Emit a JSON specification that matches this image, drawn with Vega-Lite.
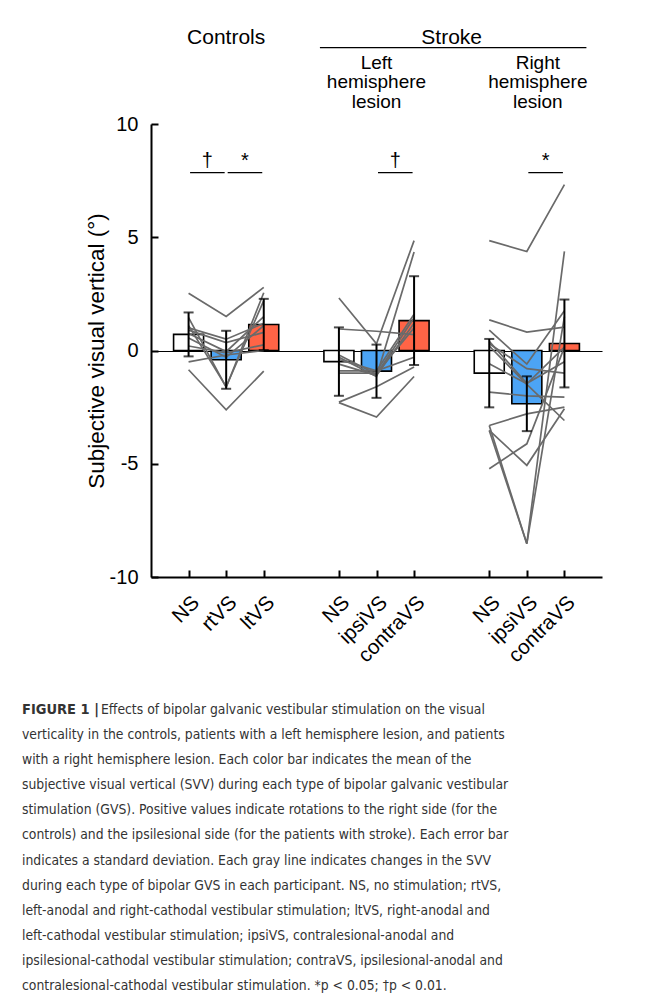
{
  "$schema": "https://vega.github.io/schema/vega-lite/v6.json",
  "background": "white",
  "padding": {"left": 22, "top": 26, "right": 5, "bottom": 5},
  "config": {"font": "Liberation Sans", "view": {"stroke": null}},
  "bounds": "flush",
  "spacing": 120,
  "datasets": {
    "bars": [
      {"cond": "C|NS", "stim": "NS", "mean": 0.71, "lo": -0.26, "hi": 1.68},
      {"cond": "C|rtVS", "stim": "rtVS", "mean": -0.41, "lo": -1.69, "hi": 0.87},
      {"cond": "C|ltVS", "stim": "ltVS", "mean": 1.15, "lo": 0.02, "hi": 2.28},
      {"cond": "L|NS", "stim": "NS", "mean": -0.49, "lo": -2.0, "hi": 1.02},
      {"cond": "L|ipsiVS", "stim": "ipsiVS", "mean": -0.91, "lo": -2.09, "hi": 0.26},
      {"cond": "L|contraVS", "stim": "contraVS", "mean": 1.32, "lo": -0.64, "hi": 3.28},
      {"cond": "R|NS", "stim": "NS", "mean": -1.0, "lo": -2.51, "hi": 0.51},
      {"cond": "R|ipsiVS", "stim": "ipsiVS", "mean": -2.35, "lo": -3.56, "hi": -1.14},
      {"cond": "R|contraVS", "stim": "contraVS", "mean": 0.31, "lo": -1.63, "hi": 2.25}
    ],
    "subjects": [
      {"subject": "C1", "cond": "C|NS", "svv": 2.53}, {"subject": "C1", "cond": "C|rtVS", "svv": 1.5}, {"subject": "C1", "cond": "C|ltVS", "svv": 2.79},
      {"subject": "C2", "cond": "C|NS", "svv": -0.85}, {"subject": "C2", "cond": "C|rtVS", "svv": -2.62}, {"subject": "C2", "cond": "C|ltVS", "svv": -0.91},
      {"subject": "C3", "cond": "C|NS", "svv": 1.45}, {"subject": "C3", "cond": "C|rtVS", "svv": -1.62}, {"subject": "C3", "cond": "C|ltVS", "svv": 2.55},
      {"subject": "C4", "cond": "C|NS", "svv": 1.1}, {"subject": "C4", "cond": "C|rtVS", "svv": -1.6}, {"subject": "C4", "cond": "C|ltVS", "svv": 2.2},
      {"subject": "C5", "cond": "C|NS", "svv": 1.0}, {"subject": "C5", "cond": "C|rtVS", "svv": 0.5}, {"subject": "C5", "cond": "C|ltVS", "svv": 1.2},
      {"subject": "C6", "cond": "C|NS", "svv": 0.9}, {"subject": "C6", "cond": "C|rtVS", "svv": 0.35}, {"subject": "C6", "cond": "C|ltVS", "svv": 0.8},
      {"subject": "C7", "cond": "C|NS", "svv": 0.75}, {"subject": "C7", "cond": "C|rtVS", "svv": -0.05}, {"subject": "C7", "cond": "C|ltVS", "svv": 1.5},
      {"subject": "C8", "cond": "C|NS", "svv": 0.55}, {"subject": "C8", "cond": "C|rtVS", "svv": -0.3}, {"subject": "C8", "cond": "C|ltVS", "svv": 1.1},
      {"subject": "C9", "cond": "C|NS", "svv": 0.2}, {"subject": "C9", "cond": "C|rtVS", "svv": -0.1}, {"subject": "C9", "cond": "C|ltVS", "svv": 0.25},
      {"subject": "C10", "cond": "C|NS", "svv": -0.5}, {"subject": "C10", "cond": "C|rtVS", "svv": -0.2}, {"subject": "C10", "cond": "C|ltVS", "svv": 0.0},
      {"subject": "L1", "cond": "L|NS", "svv": 2.32}, {"subject": "L1", "cond": "L|ipsiVS", "svv": 0.3}, {"subject": "L1", "cond": "L|contraVS", "svv": 4.85},
      {"subject": "L2", "cond": "L|NS", "svv": 0.95}, {"subject": "L2", "cond": "L|ipsiVS", "svv": 0.85}, {"subject": "L2", "cond": "L|contraVS", "svv": 0.7},
      {"subject": "L3", "cond": "L|NS", "svv": -0.3}, {"subject": "L3", "cond": "L|ipsiVS", "svv": -1.15}, {"subject": "L3", "cond": "L|contraVS", "svv": 4.35},
      {"subject": "L4", "cond": "L|NS", "svv": -0.2}, {"subject": "L4", "cond": "L|ipsiVS", "svv": -1.05}, {"subject": "L4", "cond": "L|contraVS", "svv": 1.45},
      {"subject": "L5", "cond": "L|NS", "svv": -0.4}, {"subject": "L5", "cond": "L|ipsiVS", "svv": -0.9}, {"subject": "L5", "cond": "L|contraVS", "svv": 1.6},
      {"subject": "L6", "cond": "L|NS", "svv": -0.6}, {"subject": "L6", "cond": "L|ipsiVS", "svv": -1.1}, {"subject": "L6", "cond": "L|contraVS", "svv": 1.2},
      {"subject": "L7", "cond": "L|NS", "svv": -0.9}, {"subject": "L7", "cond": "L|ipsiVS", "svv": -0.9}, {"subject": "L7", "cond": "L|contraVS", "svv": -0.3},
      {"subject": "L8", "cond": "L|NS", "svv": -1.0}, {"subject": "L8", "cond": "L|ipsiVS", "svv": -1.0}, {"subject": "L8", "cond": "L|contraVS", "svv": 1.0},
      {"subject": "L9", "cond": "L|NS", "svv": -2.28}, {"subject": "L9", "cond": "L|ipsiVS", "svv": -1.6}, {"subject": "L9", "cond": "L|contraVS", "svv": -0.73},
      {"subject": "L10", "cond": "L|NS", "svv": -2.3}, {"subject": "L10", "cond": "L|ipsiVS", "svv": -2.94}, {"subject": "L10", "cond": "L|contraVS", "svv": -1.15},
      {"subject": "R1", "cond": "R|NS", "svv": 4.85}, {"subject": "R1", "cond": "R|ipsiVS", "svv": 4.37}, {"subject": "R1", "cond": "R|contraVS", "svv": 7.32},
      {"subject": "R2", "cond": "R|NS", "svv": 1.35}, {"subject": "R2", "cond": "R|ipsiVS", "svv": 0.81}, {"subject": "R2", "cond": "R|contraVS", "svv": 1.03},
      {"subject": "R3", "cond": "R|NS", "svv": 0.9}, {"subject": "R3", "cond": "R|ipsiVS", "svv": -0.6}, {"subject": "R3", "cond": "R|contraVS", "svv": 1.75},
      {"subject": "R4", "cond": "R|NS", "svv": 0.4}, {"subject": "R4", "cond": "R|ipsiVS", "svv": -1.45}, {"subject": "R4", "cond": "R|contraVS", "svv": -0.5},
      {"subject": "R5", "cond": "R|NS", "svv": -0.59}, {"subject": "R5", "cond": "R|ipsiVS", "svv": -1.47}, {"subject": "R5", "cond": "R|contraVS", "svv": 0.15},
      {"subject": "R6", "cond": "R|NS", "svv": 0.3}, {"subject": "R6", "cond": "R|ipsiVS", "svv": -0.8}, {"subject": "R6", "cond": "R|contraVS", "svv": -1.0},
      {"subject": "R7", "cond": "R|NS", "svv": -1.84}, {"subject": "R7", "cond": "R|ipsiVS", "svv": -2.0}, {"subject": "R7", "cond": "R|contraVS", "svv": -2.06},
      {"subject": "R8", "cond": "R|NS", "svv": -3.31}, {"subject": "R8", "cond": "R|ipsiVS", "svv": -2.8}, {"subject": "R8", "cond": "R|contraVS", "svv": -2.5},
      {"subject": "R9", "cond": "R|NS", "svv": -3.31}, {"subject": "R9", "cond": "R|ipsiVS", "svv": -8.53}, {"subject": "R9", "cond": "R|contraVS", "svv": 4.38},
      {"subject": "R10", "cond": "R|NS", "svv": -3.53}, {"subject": "R10", "cond": "R|ipsiVS", "svv": -8.53}, {"subject": "R10", "cond": "R|contraVS", "svv": 1.5},
      {"subject": "R11", "cond": "R|NS", "svv": -3.53}, {"subject": "R11", "cond": "R|ipsiVS", "svv": -5.07}, {"subject": "R11", "cond": "R|contraVS", "svv": -2.57},
      {"subject": "R12", "cond": "R|NS", "svv": -5.22}, {"subject": "R12", "cond": "R|ipsiVS", "svv": -4.12}, {"subject": "R12", "cond": "R|contraVS", "svv": 0.15},
      {"subject": "R13", "cond": "R|NS", "svv": 0.2}, {"subject": "R13", "cond": "R|ipsiVS", "svv": -1.5}, {"subject": "R13", "cond": "R|contraVS", "svv": -3.09}
    ],
    "sig": [
      {"cond": "C|NS", "cond2": "C|rtVS", "sym": "†"},
      {"cond": "C|rtVS", "cond2": "C|ltVS", "sym": "*"},
      {"cond": "L|ipsiVS", "cond2": "L|contraVS", "sym": "†"},
      {"cond": "R|ipsiVS", "cond2": "R|contraVS", "sym": "*"}
    ],
    "headers": [
      {"cond": "C|rtVS", "label": "Controls"},
      {"cond": "gap2", "label": "Stroke"}
    ],
    "span": [
      {"cond": "L|NS", "cond2": "R|contraVS"}
    ],
    "subheaders": [
      {"cond": "L|ipsiVS", "label": "Left\nhemisphere\nlesion"},
      {"cond": "R|ipsiVS", "label": "Right\nhemisphere\nlesion"}
    ],
    "caption": [
      {"line": 1, "part": "head", "text": "FIGURE 1 |"},
      {"line": 1, "part": "body", "text": "Effects of bipolar galvanic vestibular stimulation on the visual"},
      {"line": 2, "part": "body", "text": "verticality in the controls, patients with a left hemisphere lesion, and patients"},
      {"line": 3, "part": "body", "text": "with a right hemisphere lesion. Each color bar indicates the mean of the"},
      {"line": 4, "part": "body", "text": "subjective visual vertical (SVV) during each type of bipolar galvanic vestibular"},
      {"line": 5, "part": "body", "text": "stimulation (GVS). Positive values indicate rotations to the right side (for the"},
      {"line": 6, "part": "body", "text": "controls) and the ipsilesional side (for the patients with stroke). Each error bar"},
      {"line": 7, "part": "body", "text": "indicates a standard deviation. Each gray line indicates changes in the SVV"},
      {"line": 8, "part": "body", "text": "during each type of bipolar GVS in each participant. NS, no stimulation; rtVS,"},
      {"line": 9, "part": "body", "text": "left-anodal and right-cathodal vestibular stimulation; ltVS, right-anodal and"},
      {"line": 10, "part": "body", "text": "left-cathodal vestibular stimulation; ipsiVS, contralesional-anodal and"},
      {"line": 11, "part": "body", "text": "ipsilesional-cathodal vestibular stimulation; contraVS, ipsilesional-anodal and"},
      {"line": 12, "part": "body", "text": "contralesional-cathodal vestibular stimulation. *p < 0.05; †p < 0.01."}
    ]
  },
  "vconcat": [
    {
      "width": 451,
      "height": 453,
      "layer": [
        {
          "data": {"name": "bars"},
          "mark": {"type": "bar", "size": 30, "stroke": "black", "strokeWidth": 1.6},
          "encoding": {
            "x": {
              "field": "cond", "type": "nominal", "title": null,
              "scale": {"type": "point", "padding": 1, "domain": ["C|NS", "C|rtVS", "C|ltVS", "gap1", "L|NS", "L|ipsiVS", "L|contraVS", "gap2", "R|NS", "R|ipsiVS", "R|contraVS"]},
              "axis": {
                "values": ["C|NS", "C|rtVS", "C|ltVS", "L|NS", "L|ipsiVS", "L|contraVS", "R|NS", "R|ipsiVS", "R|contraVS"],
                "labelExpr": "split(datum.value, '|')[1]",
                "labelAngle": -45, "labelAlign": "right", "labelBaseline": "top",
                "labelFontSize": 20.5, "labelColor": "black", "labelPadding": 22,
                "labelOverlap": false, "labelBound": false,
                "domainColor": "black", "domainWidth": 2,
                "tickColor": "black", "tickWidth": 2, "tickSize": -7
              }
            },
            "y": {
              "field": "mean", "type": "quantitative", "title": "Subjective visual vertical (°)",
              "scale": {"domain": [-10, 10], "nice": false},
              "axis": {
                "values": [-10, -5, 0, 5, 10],
                "labelExpr": "datum.value + ''",
                "labelFontSize": 20, "labelColor": "black", "labelPadding": 20,
                "domainColor": "black", "domainWidth": 2,
                "tickColor": "black", "tickWidth": 2, "tickSize": -7,
                "titleFontSize": 22.5, "titleFontWeight": "normal", "titleColor": "black", "titlePadding": 1,
                "grid": true, "gridColor": "black", "gridWidth": 1.2,
                "gridOpacity": {"condition": {"test": "datum.value === 0", "value": 1}, "value": 0}
              }
            },
            "y2": {"datum": 0},
            "fill": {
              "field": "stim", "type": "nominal", "legend": null,
              "scale": {"domain": ["NS", "rtVS", "ltVS", "ipsiVS", "contraVS"], "range": ["#ffffff", "#4ca4f5", "#ff6446", "#4ca4f5", "#ff6446"]}
            }
          }
        },
        {
          "data": {"name": "subjects"},
          "mark": {"type": "line", "color": "#6a6a6a", "strokeWidth": 1.7},
          "encoding": {
            "x": {"field": "cond", "type": "nominal", "title": null, "scale": {"type": "point", "padding": 1, "domain": ["C|NS", "C|rtVS", "C|ltVS", "gap1", "L|NS", "L|ipsiVS", "L|contraVS", "gap2", "R|NS", "R|ipsiVS", "R|contraVS"]}},
            "y": {"field": "svv", "type": "quantitative", "title": "Subjective visual vertical (°)"},
            "detail": {"field": "subject"},
            "order": {"value": null}
          }
        },
        {
          "data": {"name": "bars"},
          "mark": {"type": "errorbar", "color": "black", "thickness": 2, "ticks": {"size": 10}},
          "encoding": {
            "x": {"field": "cond", "type": "nominal", "title": null, "scale": {"type": "point", "padding": 1, "domain": ["C|NS", "C|rtVS", "C|ltVS", "gap1", "L|NS", "L|ipsiVS", "L|contraVS", "gap2", "R|NS", "R|ipsiVS", "R|contraVS"]}},
            "y": {"field": "lo", "type": "quantitative", "title": "Subjective visual vertical (°)"},
            "y2": {"field": "hi"}
          }
        },
        {
          "data": {"name": "sig"},
          "mark": {"type": "rule", "color": "black", "strokeWidth": 1.3, "xOffset": 1.5, "x2Offset": -1.5},
          "encoding": {
            "x": {"field": "cond", "type": "nominal", "title": null, "scale": {"type": "point", "padding": 1, "domain": ["C|NS", "C|rtVS", "C|ltVS", "gap1", "L|NS", "L|ipsiVS", "L|contraVS", "gap2", "R|NS", "R|ipsiVS", "R|contraVS"]}},
            "x2": {"field": "cond2"},
            "y": {"datum": 7.85}
          }
        },
        {
          "data": {"name": "sig"},
          "mark": {"type": "text", "fontSize": 20, "dx": 18.8, "align": "center", "baseline": "alphabetic", "color": "black"},
          "encoding": {
            "x": {"field": "cond", "type": "nominal", "title": null, "scale": {"type": "point", "padding": 1, "domain": ["C|NS", "C|rtVS", "C|ltVS", "gap1", "L|NS", "L|ipsiVS", "L|contraVS", "gap2", "R|NS", "R|ipsiVS", "R|contraVS"]}},
            "y": {"datum": 8.1},
            "text": {"field": "sym"}
          }
        },
        {
          "data": {"name": "headers"},
          "mark": {"type": "text", "fontSize": 21, "align": "center", "baseline": "alphabetic", "color": "black"},
          "encoding": {
            "x": {"field": "cond", "type": "nominal", "title": null, "scale": {"type": "point", "padding": 1, "domain": ["C|NS", "C|rtVS", "C|ltVS", "gap1", "L|NS", "L|ipsiVS", "L|contraVS", "gap2", "R|NS", "R|ipsiVS", "R|contraVS"]}},
            "y": {"datum": 13.55},
            "text": {"field": "label"}
          }
        },
        {
          "data": {"name": "span"},
          "mark": {"type": "rule", "color": "black", "strokeWidth": 1.3, "xOffset": -19, "x2Offset": 22},
          "encoding": {
            "x": {"field": "cond", "type": "nominal", "title": null, "scale": {"type": "point", "padding": 1, "domain": ["C|NS", "C|rtVS", "C|ltVS", "gap1", "L|NS", "L|ipsiVS", "L|contraVS", "gap2", "R|NS", "R|ipsiVS", "R|contraVS"]}},
            "x2": {"field": "cond2"},
            "y": {"datum": 13.37}
          }
        },
        {
          "data": {"name": "subheaders"},
          "transform": [{"filter": "datum.cond === 'L|ipsiVS'"}],
          "mark": {"type": "text", "fontSize": 19, "lineHeight": 19.7, "lineBreak": "\n", "align": "center", "baseline": "alphabetic", "color": "black"},
          "encoding": {
            "x": {"field": "cond", "type": "nominal", "title": null, "scale": {"type": "point", "padding": 1, "domain": ["C|NS", "C|rtVS", "C|ltVS", "gap1", "L|NS", "L|ipsiVS", "L|contraVS", "gap2", "R|NS", "R|ipsiVS", "R|contraVS"]}},
            "y": {"datum": 12.44},
            "text": {"field": "label"}
          }
        },
        {
          "data": {"name": "subheaders"},
          "transform": [{"filter": "datum.cond === 'R|ipsiVS'"}],
          "mark": {"type": "text", "fontSize": 19, "lineHeight": 19.7, "lineBreak": "\n", "align": "center", "baseline": "alphabetic", "color": "black", "dx": 11},
          "encoding": {
            "x": {"field": "cond", "type": "nominal", "title": null, "scale": {"type": "point", "padding": 1, "domain": ["C|NS", "C|rtVS", "C|ltVS", "gap1", "L|NS", "L|ipsiVS", "L|contraVS", "gap2", "R|NS", "R|ipsiVS", "R|contraVS"]}},
            "y": {"datum": 12.44},
            "text": {"field": "label"}
          }
        }
      ]
    },
    {
      "width": 480,
      "height": 302,
      "data": {"name": "caption"},
      "layer": [
        {
          "transform": [{"filter": "datum.part === 'head'"}],
          "mark": {"type": "text", "align": "left", "baseline": "middle", "dx": -129, "fontSize": 14.5, "fontWeight": "bold", "font": "DejaVu Sans Condensed, Liberation Sans", "color": "#333333"},
          "encoding": {
            "x": {"datum": 0, "type": "quantitative", "scale": {"domain": [0, 1]}, "axis": null},
            "y": {"field": "line", "type": "ordinal", "scale": {"domain": [1, 2, 3, 4, 5, 6, 7, 8, 9, 10, 11, 12]}, "axis": null},
            "text": {"field": "text"}
          }
        },
        {
          "transform": [{"filter": "datum.part === 'body' && datum.line === 1"}],
          "mark": {"type": "text", "align": "left", "baseline": "middle", "dx": -50, "fontSize": 13.8, "font": "DejaVu Sans Condensed, Liberation Sans", "color": "#333333"},
          "encoding": {
            "x": {"datum": 0, "type": "quantitative", "scale": {"domain": [0, 1]}, "axis": null},
            "y": {"field": "line", "type": "ordinal", "scale": {"domain": [1, 2, 3, 4, 5, 6, 7, 8, 9, 10, 11, 12]}, "axis": null},
            "text": {"field": "text"}
          }
        },
        {
          "transform": [{"filter": "datum.part === 'body' && datum.line > 1"}],
          "mark": {"type": "text", "align": "left", "baseline": "middle", "dx": -129, "fontSize": 13.8, "font": "DejaVu Sans Condensed, Liberation Sans", "color": "#333333"},
          "encoding": {
            "x": {"datum": 0, "type": "quantitative", "scale": {"domain": [0, 1]}, "axis": null},
            "y": {"field": "line", "type": "ordinal", "scale": {"domain": [1, 2, 3, 4, 5, 6, 7, 8, 9, 10, 11, 12]}, "axis": null},
            "text": {"field": "text"}
          }
        }
      ]
    }
  ]
}
